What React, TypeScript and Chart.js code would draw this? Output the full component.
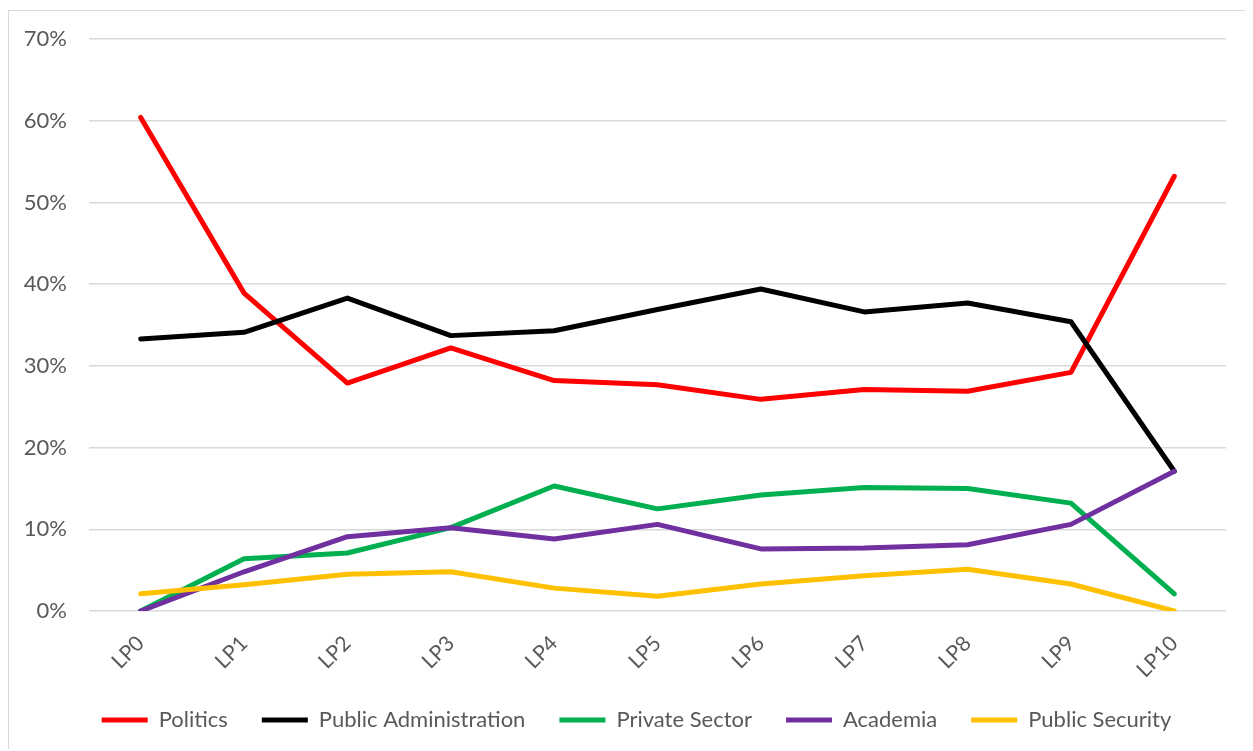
import React, { useEffect, useRef } from "react";
import { Chart, registerables } from "chart.js";

Chart.register(...registerables);

const categories = ["LP0", "LP1", "LP2", "LP3", "LP4", "LP5", "LP6", "LP7", "LP8", "LP9", "LP10"];

const politics = [60.4, 38.9, 27.9, 32.2, 28.2, 27.7, 25.9, 27.1, 26.9, 29.2, 53.2];
const publicAdministration = [33.3, 34.1, 38.3, 33.7, 34.3, 36.9, 39.4, 36.6, 37.7, 35.4, 17.1];
const privateSector = [0, 6.4, 7.1, 10.2, 15.3, 12.5, 14.2, 15.1, 15.0, 13.2, 2.1];
const academia = [0, 4.8, 9.1, 10.2, 8.8, 10.6, 7.6, 7.7, 8.1, 10.6, 17.1];
const publicSecurity = [2.1, 3.2, 4.5, 4.8, 2.8, 1.8, 3.3, 4.3, 5.1, 3.3, 0];

const seriesNames = ["Politics", "Public Administration", "Private Sector", "Academia", "Public Security"];
const seriesColors = ["#FF0000", "#000000", "#00B050", "#7030A0", "#FFC000"];
const seriesValues = [politics, publicAdministration, privateSector, academia, publicSecurity];

const yTicks = [0, 10, 20, 30, 40, 50, 60, 70];

const FONT = "Lato";
const TEXT = "#595959";

const legendPlacer = {
  id: "legendPlacer",
  afterLayout(chart: any) {
    const lg = chart.legend;
    if (!lg) return;
    const h = lg.height;
    lg.left = 38;
    lg.right = chart.chartArea.right;
    lg.width = lg.right - lg.left;
    lg.top = 664;
    lg.bottom = lg.top + h;
  },
};

export default function App() {
  const canvasRef = useRef<HTMLCanvasElement | null>(null);

  useEffect(() => {
    if (!canvasRef.current) return;
    const chart = new Chart(canvasRef.current, {
      type: "line",
      data: {
        labels: categories,
        datasets: seriesNames.map((name, i) => ({
          label: name,
          data: seriesValues[i],
          borderColor: seriesColors[i],
          backgroundColor: seriesColors[i],
          borderWidth: 5,
          borderCapStyle: "round" as const,
          borderJoinStyle: "round" as const,
          pointRadius: 0,
          pointHoverRadius: 0,
          tension: 0,
          fill: false,
          order: seriesNames.length - i,
        })),
      },
      plugins: [legendPlacer],
      options: {
        animation: false,
        responsive: true,
        maintainAspectRatio: false,
        layout: { padding: { left: 0, right: 24, top: 28, bottom: 0 } },
        plugins: {
          tooltip: { enabled: false },
          title: { display: false },
          legend: {
            display: true,
            position: "bottom",
            labels: {
              usePointStyle: true,
              pointStyle: "line",
              pointStyleWidth: 46,
              boxWidth: 46,
              padding: 34,
              color: TEXT,
              font: { family: FONT, size: 22 },
              sort: (a: any, b: any) => a.datasetIndex - b.datasetIndex,
            },
          },
        },
        scales: {
          x: {
            type: "category",
            offset: true,
            grid: { display: false, drawTicks: false },
            border: { display: false },
            ticks: {
              minRotation: 45,
              maxRotation: 45,
              autoSkip: false,
              padding: 20,
              color: TEXT,
              font: { family: FONT, size: 21 },
            },
            afterFit: (scale: any) => {
              scale.height = 73;
              scale.paddingLeft = 0;
              scale.paddingRight = 0;
            },
          },
          y: {
            min: 0,
            max: 70,
            afterBuildTicks: (scale: any) => {
              scale.ticks = yTicks.map((v) => ({ value: v }));
            },
            grid: { color: "#d9d9d9", lineWidth: 1.5, drawTicks: false },
            border: { display: false },
            ticks: {
              padding: 22,
              color: TEXT,
              font: { family: FONT, size: 22 },
              callback: (v: any) => `${v}%`,
            },
            afterFit: (scale: any) => {
              scale.width = 80;
              scale.paddingTop = 0;
              scale.paddingBottom = 0;
            },
          },
        },
      },
    });
    return () => chart.destroy();
  }, []);

  return (
    <div
      style={{
        position: "relative",
        top: 2,
        width: 1243,
        height: 741,
        border: "1px solid #d9d9d9",
        boxSizing: "border-box",
        background: "#fff",
      }}
    >
      <canvas ref={canvasRef} />
    </div>
  );
}
